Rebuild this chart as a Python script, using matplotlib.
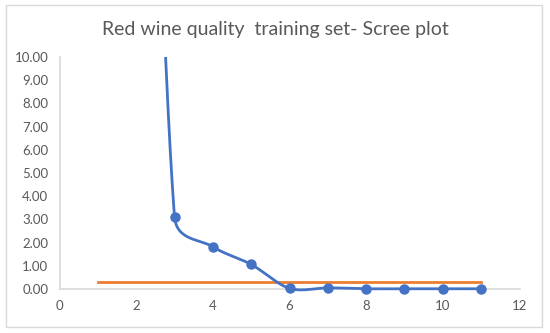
import numpy as np
import matplotlib
matplotlib.use("Agg")
import matplotlib.pyplot as plt
from matplotlib.patches import Rectangle

# Data
components = [1, 2, 3, 4, 5, 6, 7, 8, 9, 10, 11]
eigenvalues = [90.0, 45.0, 3.12, 1.82, 1.06, 0.03, 0.05, 0.01, 0.01, 0.01, 0.01]
threshold_x = [1, 11]
threshold_y = [0.31, 0.31]
title = "Red wine quality  training set- Scree plot"
x_ticks = [0, 2, 4, 6, 8, 10, 12]
y_ticks = [0, 1, 2, 3, 4, 5, 6, 7, 8, 9, 10]

BLUE = "#4472C4"
ORANGE = "#ED7D31"
GREY_TXT = "#595959"
GREY_LINE = "#D9D9D9"


def excel_smooth(xs, ys, scale=(38.3, 23.2), n=80):
    """Excel-like smoothed line (Bezier with limited control-point length)."""
    sc = np.array(scale)
    P = np.column_stack([np.asarray(xs, float), np.asarray(ys, float)]) * sc
    m = len(P)
    out = []
    for i in range(m - 1):
        p0 = P[i - 1] if i > 0 else P[i]
        p1 = P[i]
        p2 = P[i + 1]
        p3 = P[i + 2] if i + 2 < m else P[i + 1]
        d02 = np.linalg.norm(p2 - p0)
        d12 = np.linalg.norm(p2 - p1)
        d13 = np.linalg.norm(p3 - p1)
        f = 1 / 6 if d02 / 6 < d12 / 2 else d12 / d02 / 2
        g = 1 / 6 if d13 / 6 < d12 / 2 else d12 / d13 / 2
        c1 = p1 + (p2 - p0) * f
        c2 = p2 - (p3 - p1) * g
        t = np.linspace(0, 1, n)[:, None]
        seg = ((1 - t) ** 3) * p1 + 3 * ((1 - t) ** 2) * t * c1 + 3 * (1 - t) * t ** 2 * c2 + t ** 3 * p2
        out.append(seg if i == 0 else seg[1:])
    pts = np.vstack(out) / sc
    return pts[:, 0], pts[:, 1]


fig = plt.figure(figsize=(5.5, 3.33), dpi=100)
fig.patches.append(Rectangle((6 / 550, 1 - 327 / 333), 536 / 550, 322 / 333,
                             transform=fig.transFigure, fill=False,
                             edgecolor=GREY_LINE, linewidth=1.0))

ax = fig.add_axes([59.5 / 550, 1 - 289 / 333, (519.5 - 59.5) / 550, (289 - 57) / 333])

# clip region: top at y=10, but allow markers at y=0 to show fully
clip_rect = Rectangle((-0.05, -0.06), 1.1, 1.06, transform=ax.transAxes,
                      fill=False, visible=False)
ax.add_patch(clip_rect)

sx, sy = excel_smooth(components, eigenvalues)
line, = ax.plot(sx, sy, color=BLUE, linewidth=2.0, solid_capstyle="round", zorder=3)
line.set_clip_path(clip_rect)
marks, = ax.plot(components, eigenvalues, linestyle="none", marker="o", markersize=6.5,
                 color=BLUE, zorder=4)
marks.set_clip_path(clip_rect)
ax.plot(threshold_x, threshold_y, color=ORANGE, linewidth=2.0, zorder=2)

ax.set_xlim(0, 12)
ax.set_ylim(0, 10)
ax.set_xticks(x_ticks)
ax.set_yticks(y_ticks)
ax.set_yticklabels([f"{v:.2f}" for v in y_ticks])

for s in ["top", "right"]:
    ax.spines[s].set_visible(False)
for s in ["left", "bottom"]:
    ax.spines[s].set_color(GREY_LINE)
    ax.spines[s].set_linewidth(1.2)
ax.spines["bottom"].set_zorder(1)

ax.tick_params(length=0, colors=GREY_TXT, labelsize=9.5, pad=8)
for lab in ax.get_xticklabels() + ax.get_yticklabels():
    lab.set_family("Lato")

fig.text(0.5, 1 - 30 / 333, title, ha="center", va="center",
         fontsize=14, color=GREY_TXT, family="Lato")

fig.savefig("out.png", dpi=100)
